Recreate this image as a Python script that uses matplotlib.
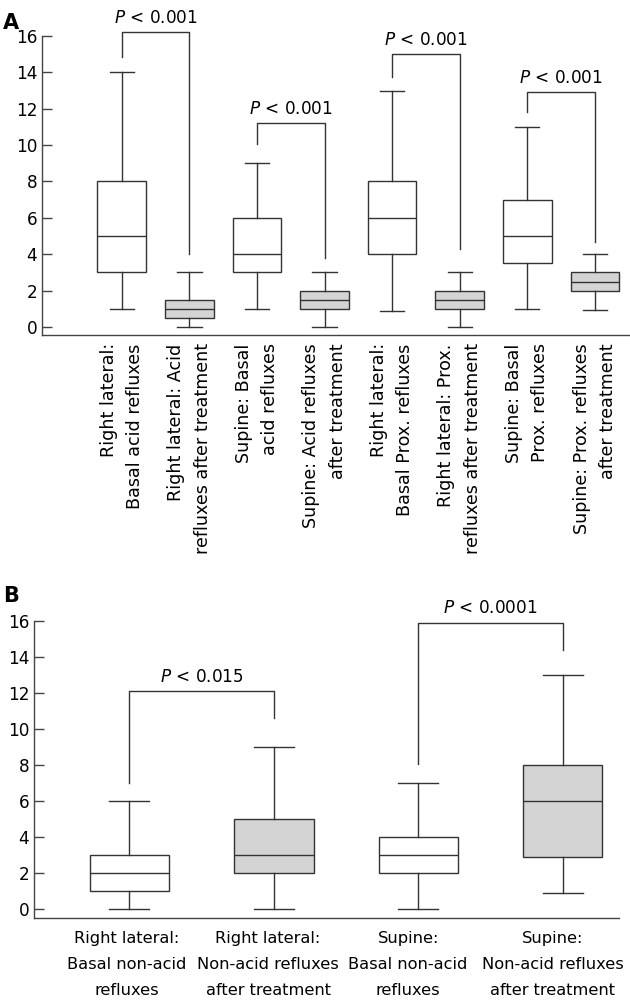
import matplotlib
matplotlib.use('Agg')
import matplotlib.pyplot as plt
matplotlib.rcParams.update({'font.size': 12.2, 'font.family': 'DejaVu Sans'})

line_col = '#333333'
fill_col = '#d4d4d4'

# panel A: acid / proximal refluxes
labels_a = ['Right lateral:\nBasal acid refluxes',
            'Right lateral: Acid\nrefluxes after treatment',
            'Supine: Basal\nacid refluxes',
            'Supine: Acid refluxes\nafter treatment',
            'Right lateral:\nBasal Prox. refluxes',
            'Right lateral: Prox.\nrefluxes after treatment',
            'Supine: Basal\nProx. refluxes',
            'Supine: Prox. refluxes\nafter treatment']
low_a = [1, 0, 1, 0, 0.9, 0, 1, 0.95]
q1_a = [3, 0.5, 3, 1, 4, 1, 3.5, 2]
med_a = [5, 1, 4, 1.5, 6, 1.5, 5, 2.5]
q3_a = [8, 1.5, 6, 2, 8, 2, 7, 3]
high_a = [14, 3, 9, 3, 13, 3, 11, 4]
shaded_a = [False, True, False, True, False, True, False, True]
# brackets: left box, right box, top, left leg end, right leg end, text
brackets_a = [(1, 2, 16.2, 14.85, 4.0, '$P$ < 0.001'),
              (3, 4, 11.2, 10.05, 3.8, '$P$ < 0.001'),
              (5, 6, 15.0, 13.75, 4.3, '$P$ < 0.001'),
              (7, 8, 12.9, 11.8, 4.7, '$P$ < 0.001')]

# panel B: non-acid refluxes
labels_b = ['Right lateral:\nBasal non-acid\nrefluxes',
            'Right lateral:\nNon-acid refluxes\nafter treatment',
            'Supine:\nBasal non-acid\nrefluxes',
            'Supine:\nNon-acid refluxes\nafter treatment']
label_pos_b = [0.98, 1.96, 2.93, 3.93]
low_b = [0, 0, 0, 0.9]
q1_b = [1, 2, 2, 2.9]
med_b = [2, 3, 3, 6]
q3_b = [3, 5, 4, 8]
high_b = [6, 9, 7, 13]
shaded_b = [False, True, False, True]
brackets_b = [(1, 2, 12.1, 7.0, 10.6, '$P$ < 0.015'),
              (3, 4, 15.9, 8.05, 14.4, '$P$ < 0.0001')]


def draw_panel(ax, labels, low, q1, med, q3, high, shaded, brackets, width):
    stats = []
    for i in range(len(labels)):
        stats.append({'whislo': low[i], 'q1': q1[i], 'med': med[i],
                      'q3': q3[i], 'whishi': high[i], 'fliers': []})
    pos = list(range(1, len(labels) + 1))
    lp = dict(color=line_col, linewidth=1.0)
    res = ax.bxp(stats, positions=pos, widths=width, patch_artist=True,
                 showfliers=False, boxprops=dict(edgecolor=line_col, linewidth=1.0),
                 whiskerprops=lp, capprops=lp, medianprops=lp)
    for box, sh in zip(res['boxes'], shaded):
        box.set_facecolor(fill_col if sh else 'white')
    for x1, x2, top, lb, rb, txt in brackets:
        ax.plot([x1, x1, x2, x2], [lb, top, top, rb], color=line_col,
                lw=1.0, clip_on=False)
        ax.annotate(txt, xy=((x1 + x2) / 2, top), xytext=(0, 4),
                    textcoords='offset points', ha='center', va='bottom',
                    annotation_clip=False)
    ax.set_yticks(range(0, 17, 2))
    ax.spines['top'].set_visible(False)
    ax.spines['right'].set_visible(False)
    for s in ['left', 'bottom']:
        ax.spines[s].set_color('#444444')
        ax.spines[s].set_linewidth(1.0)
    ax.tick_params(axis='y', direction='in', length=7, width=1.0, color='#444444')
    ax.tick_params(axis='x', length=0)
    return pos


fig = plt.figure(figsize=(6.3, 10.06), dpi=100)

ax_a = fig.add_axes([42 / 630, 1 - 335 / 1006, 588 / 630, 299 / 1006])
pos_a = draw_panel(ax_a, labels_a, low_a, q1_a, med_a, q3_a, high_a,
                   shaded_a, brackets_a, 0.72)
ax_a.set_ylim(-0.44, 16)
ax_a.set_xlim(-0.18, 8.52)
ax_a.set_xticks(pos_a, labels_a, rotation=90, ha='center', va='top',
                multialignment='right', linespacing=1.6, fontsize=12.6)
ax_a.tick_params(axis='x', pad=6)

ax_b = fig.add_axes([34 / 630, 1 - 918 / 1006, 585 / 630, 297 / 1006])
draw_panel(ax_b, labels_b, low_b, q1_b, med_b, q3_b, high_b,
           shaded_b, brackets_b, 0.55)
ax_b.set_ylim(-0.5, 16)
ax_b.set_xlim(0.34, 4.39)
ax_b.set_xticks(label_pos_b, labels_b, ha='center', multialignment='center',
                linespacing=1.95, fontsize=11.7)
ax_b.tick_params(axis='x', pad=9)

fig.text(0.005, 0.987, 'A', fontsize=15, fontweight='bold', va='top')
fig.text(0.005, 1 - 586 / 1006, 'B', fontsize=15, fontweight='bold', va='top')

plt.savefig('out.png', dpi=100)
